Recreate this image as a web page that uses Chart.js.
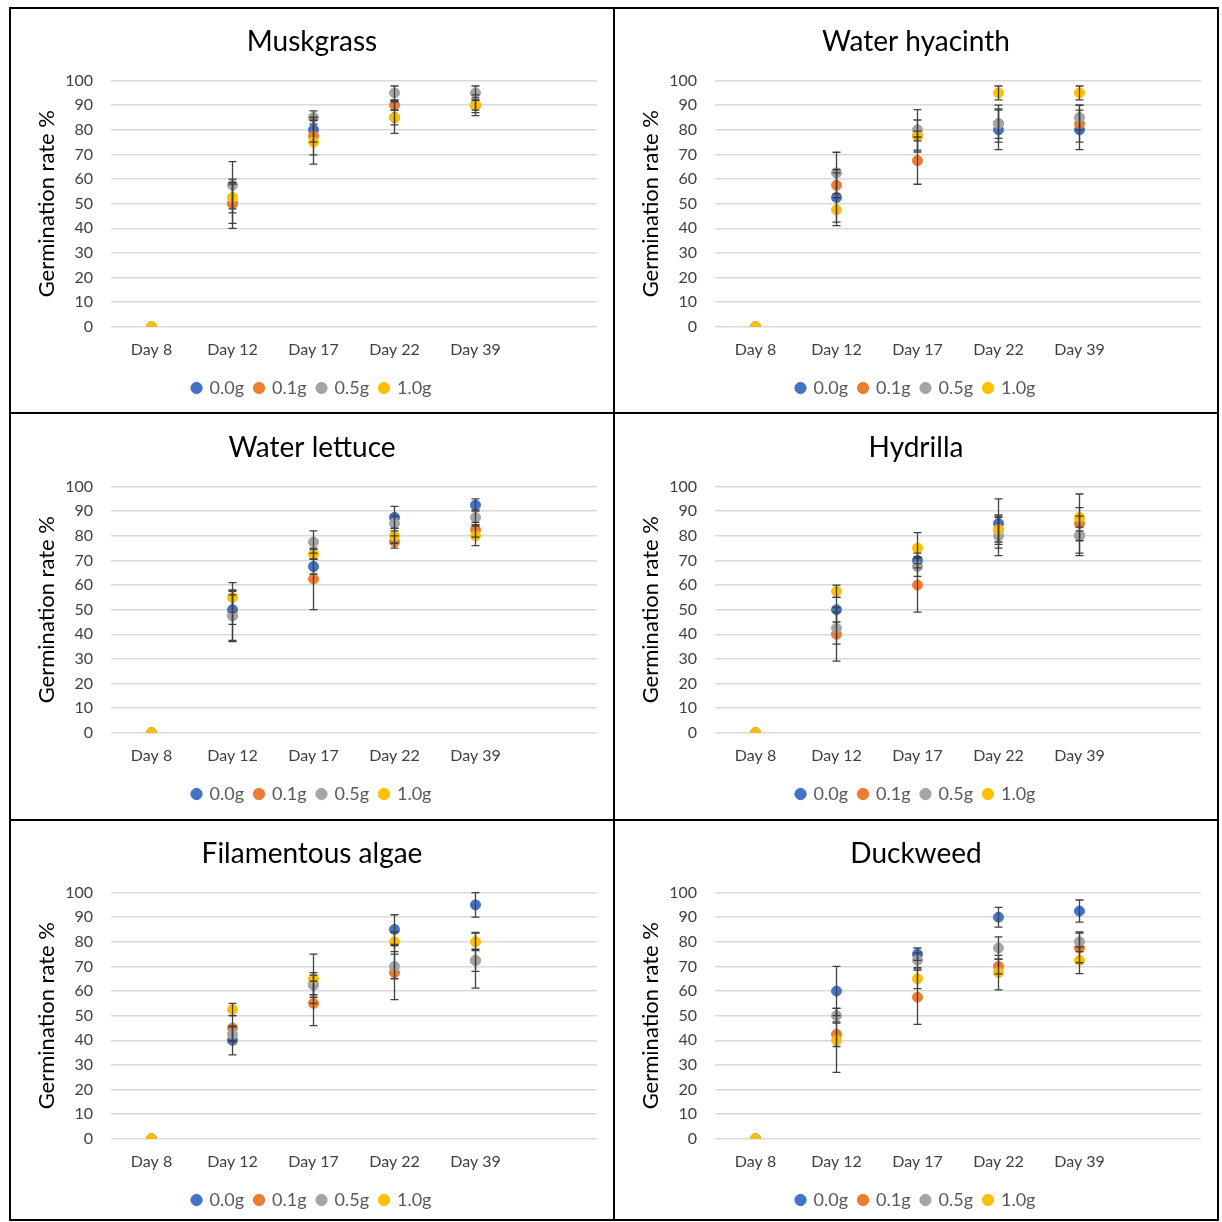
<!DOCTYPE html>
<html>
<head>
<meta charset="utf-8">
<script src="https://cdn.jsdelivr.net/npm/chart.js"></script>
<style>
  body { margin: 0; background: #fff; }
  .panel { position: absolute; width: 604px; height: 406px; }
  .line { position: absolute; background: #000; }
</style>
</head>
<body>
<div id="wrap"></div>
<script>
// categories (last one is an empty slot, as in the source chart)
const days = ['Day 8', 'Day 12', 'Day 17', 'Day 22', 'Day 39', ''];
const doses = ['0.0g', '0.1g', '0.5g', '1.0g'];
const doseColors = ['#4472C4', '#ED7D31', '#A5A5A5', '#FFC000'];
const plantNames = ['Muskgrass', 'Water hyacinth', 'Water lettuce', 'Hydrilla', 'Filamentous algae', 'Duckweed'];

// mean germination %, one row per dose
const muskgrassMean = [
  [0, 50, 80, 85, 90],
  [0, 50, 77.5, 90, 90],
  [0, 57.5, 85, 95, 95],
  [0, 52.5, 75, 85, 90]
];
const muskgrassErr = [
  [0, 8, 5, 3, 3],
  [0, 10, 7.7, 2, 2],
  [0, 9.6, 2.7, 2.8, 2.8],
  [0, 6.2, 8.9, 6.4, 4.2]
];

const hyacinthMean = [
  [0, 52.5, 77.5, 80, 80],
  [0, 57.5, 67.5, 82.5, 82.5],
  [0, 62.5, 80, 82.5, 85],
  [0, 47.5, 77.5, 95, 95]
];
const hyacinthErr = [
  [0, 11.4, 2, 8, 8],
  [0, 5, 9.6, 6, 7.5],
  [0, 8.4, 8.2, 7.5, 5],
  [0, 5, 6.5, 2.8, 2.8]
];

const lettuceMean = [
  [0, 50, 67.5, 87.5, 92.5],
  [0, 47.5, 62.5, 77.5, 82.5],
  [0, 47.5, 77.5, 85, 87.5],
  [0, 55, 72.5, 80, 80]
];
const lettuceErr = [
  [0, 6, 3, 4.5, 2.5],
  [0, 10.5, 12.5, 2.5, 3],
  [0, 10, 4.5, 3, 3],
  [0, 6, 2, 3, 4]
];

const hydrillaMean = [
  [0, 50, 70, 85, 80],
  [0, 40, 60, 82.5, 85],
  [0, 42.5, 67.5, 80, 80],
  [0, 57.5, 75, 82.5, 87.5]
];
const hydrillaErr = [
  [0, 5, 3, 10, 2],
  [0, 10.9, 11, 5, 12],
  [0, 6.5, 4, 8, 8],
  [0, 2.5, 6.3, 6, 4]
];

const algaeMean = [
  [0, 40, 62.5, 85, 95],
  [0, 45, 55, 67.5, 72.5],
  [0, 42.5, 62.5, 70, 72.5],
  [0, 52.5, 65, 80, 80]
];
const algaeErr = [
  [0, 5.9, 5, 6, 5],
  [0, 5, 9, 11, 4.5],
  [0, 3, 4, 5, 11.3],
  [0, 2.5, 10, 4, 3.6]
];

const duckweedMean = [
  [0, 60, 75, 90, 92.5],
  [0, 42.5, 57.5, 70, 77.5],
  [0, 50, 72.5, 77.5, 80],
  [0, 40, 65, 67.5, 72.5]
];
const duckweedErr = [
  [0, 10, 2.5, 4, 4.5],
  [0, 5, 11, 3, 6],
  [0, 3, 3, 4.5, 4],
  [0, 13, 4, 7, 5.4]
];

const allMeans = [muskgrassMean, hyacinthMean, lettuceMean, hydrillaMean, algaeMean, duckweedMean];
const allErrs = [muskgrassErr, hyacinthErr, lettuceErr, hydrillaErr, algaeErr, duckweedErr];

const FONT = 'Lato, "Open Sans", sans-serif';

// draws vertical error bars with caps from dataset.errors
const errorBars = {
  id: 'errorBars',
  afterDatasetsDraw(chart) {
    const c = chart.ctx;
    const y = chart.scales.y;
    c.save();
    c.strokeStyle = '#404040';
    c.lineWidth = 1.3;
    chart.data.datasets.forEach((ds, di) => {
      const meta = chart.getDatasetMeta(di);
      ds.errors.forEach((e, i) => {
        if (!e) return;
        const pt = meta.data[i];
        const top = y.getPixelForValue(ds.data[i] + e);
        const bot = y.getPixelForValue(ds.data[i] - e);
        c.beginPath();
        c.moveTo(pt.x, top); c.lineTo(pt.x, bot);
        c.moveTo(pt.x - 4, top); c.lineTo(pt.x + 4, top);
        c.moveTo(pt.x - 4, bot); c.lineTo(pt.x + 4, bot);
        c.stroke();
      });
    });
    c.restore();
  }
};

const wrap = document.getElementById('wrap');

plantNames.forEach((name, p) => {
  const col = p % 2, row = Math.floor(p / 2);
  const div = document.createElement('div');
  div.className = 'panel';
  div.style.left = (10 + col * 604) + 'px';
  div.style.top = (8 + row * 406) + 'px';
  const canvas = document.createElement('canvas');
  canvas.width = 604; canvas.height = 406;
  div.appendChild(canvas);
  wrap.appendChild(div);

  const datasets = doses.map((d, s) => ({
    label: d,
    data: allMeans[p][s],
    errors: allErrs[p][s],
    order: doses.length - s, // later doses drawn on top
    showLine: false,
    pointRadius: 5,
    pointHoverRadius: 5,
    pointBackgroundColor: doseColors[s],
    pointBorderColor: doseColors[s],
    backgroundColor: doseColors[s],
    borderColor: doseColors[s]
  }));

  new Chart(canvas.getContext('2d'), {
    type: 'line',
    data: { labels: days, datasets },
    plugins: [errorBars],
    options: {
      responsive: false,
      animation: false,
      layout: { padding: { left: 17, right: 17, top: 0, bottom: 7 } },
      plugins: {
        title: {
          display: true,
          text: name,
          color: '#000',
          font: { family: FONT, size: 28, weight: 'normal' },
          padding: { top: 17, bottom: 22 }
        },
        legend: {
          position: 'bottom',
          labels: {
            usePointStyle: true,
            pointStyle: 'circle',
            boxWidth: 8,
            boxHeight: 8,
            padding: 11,
            color: '#595959',
            font: { family: FONT, size: 18 },
            sort: (a, b) => a.datasetIndex - b.datasetIndex
          }
        },
        tooltip: { enabled: false }
      },
      scales: {
        x: {
          offset: true,
          afterFit(scale) { scale.height += 4; },
          grid: { display: false },
          border: { display: false },
          ticks: { color: '#404040', font: { family: FONT, size: 16 }, padding: 5, maxRotation: 0 }
        },
        y: {
          min: 0,
          max: 100,
          afterFit(scale) { scale.width = 84; },
          grid: { color: '#d9d9d9', lineWidth: 1.5, drawTicks: false },
          border: { display: false },
          ticks: { stepSize: 10, color: '#404040', padding: 18, font: { family: FONT, size: 16 } },
          title: {
            display: true,
            text: 'Germination rate %',
            color: '#000',
            font: { family: FONT, size: 22 },
            padding: { top: 7, bottom: 4 }
          }
        }
      }
    }
  });
});

// panel frame lines
[
  [9, 7, 1210, 2], [9, 1219, 1210, 2], [9, 7, 2, 1214], [1217, 7, 2, 1214],
  [613, 7, 2, 1214], [9, 412, 1210, 2], [9, 819, 1210, 2]
].forEach(([l, t, w, h]) => {
  const d = document.createElement('div');
  d.className = 'line';
  d.style.left = l + 'px'; d.style.top = t + 'px';
  d.style.width = w + 'px'; d.style.height = h + 'px';
  wrap.appendChild(d);
});
</script>
</body>
</html>
